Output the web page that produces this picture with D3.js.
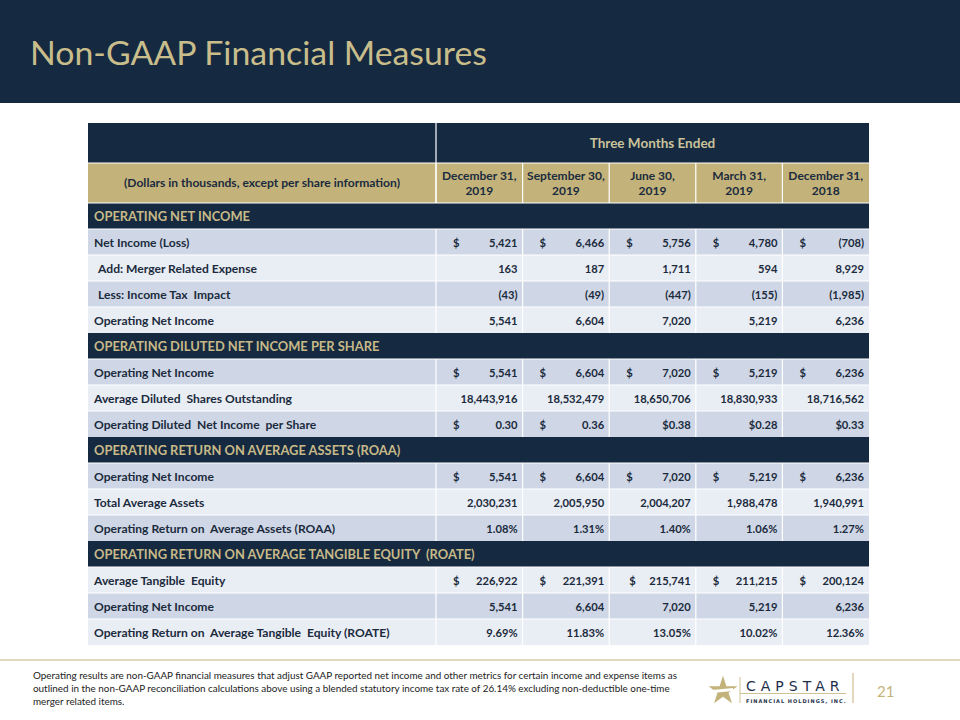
<!DOCTYPE html>
<html><head><meta charset="utf-8">
<script src="https://cdn.jsdelivr.net/npm/d3@7"></script>
<style>html,body{margin:0;padding:0;background:#fff;}svg{display:block;}</style>
</head><body>
<svg id="c" width="960" height="720"></svg>
<script>
const title = "Non-GAAP Financial Measures";
const periodLine1 = ["December 31,", "September 30,", "June 30,", "March 31,", "December 31,"];
const periodLine2 = ["2019", "2019", "2019", "2019", "2018"];
const unitsLabel = "(Dollars in thousands, except per share information)";
const groupLabel = "Three Months Ended";

const netIncome = [5421, 6466, 5756, 4780, -708];
const mergerExpense = [163, 187, 1711, 594, 8929];
const taxImpact = [-43, -49, -447, -155, -1985];
const operatingNetIncome = [5541, 6604, 7020, 5219, 6236];
const dilutedShares = [18443916, 18532479, 18650706, 18830933, 18716562];
const dilutedEPS = [0.30, 0.36, 0.38, 0.28, 0.33];
const avgAssets = [2030231, 2005950, 2004207, 1988478, 1940991];
const roaa = [1.08, 1.31, 1.40, 1.06, 1.27];
const avgTangibleEquity = [226922, 221391, 215741, 211215, 200124];
const roate = [9.69, 11.83, 13.05, 10.02, 12.36];

const footnote = [
  "Operating results are non-GAAP financial measures that adjust GAAP reported net income and other metrics for certain income and expense items as",
  "outlined in the non-GAAP reconciliation calculations above using a blended statutory income tax rate of 26.14% excluding non-deductible one-time",
  "merger related items."
];
const pageNumber = "21";

const sections = [
  {title: "OPERATING NET INCOME", rows: [
    {label: "Net Income (Loss)", values: netIncome, fmt: "int", dollar: ["sep","sep","sep","sep","sep"]},
    {label: "Add: Merger Related Expense", values: mergerExpense, fmt: "int", indent: true},
    {label: "Less: Income Tax  Impact", values: taxImpact, fmt: "int", indent: true},
    {label: "Operating Net Income", values: operatingNetIncome, fmt: "int"}
  ]},
  {title: "OPERATING DILUTED NET INCOME PER SHARE", rows: [
    {label: "Operating Net Income", values: operatingNetIncome, fmt: "int", dollar: ["sep","sep","sep","sep","sep"]},
    {label: "Average Diluted  Shares Outstanding", values: dilutedShares, fmt: "int"},
    {label: "Operating Diluted  Net Income  per Share", values: dilutedEPS, fmt: "dec", dollar: ["sep","sep","inline","inline","inline"]}
  ]},
  {title: "OPERATING RETURN ON AVERAGE ASSETS (ROAA)", rows: [
    {label: "Operating Net Income", values: operatingNetIncome, fmt: "int", dollar: ["sep","sep","sep","sep","sep"]},
    {label: "Total Average Assets", values: avgAssets, fmt: "int"},
    {label: "Operating Return on  Average Assets (ROAA)", values: roaa, fmt: "pct"}
  ]},
  {title: "OPERATING RETURN ON AVERAGE TANGIBLE EQUITY  (ROATE)", rows: [
    {label: "Average Tangible  Equity", values: avgTangibleEquity, fmt: "int", dollar: ["sep","sep","near","sep","sep"], light: true},
    {label: "Operating Net Income", values: operatingNetIncome, fmt: "int"},
    {label: "Operating Return on  Average Tangible  Equity (ROATE)", values: roate, fmt: "pct"}
  ]}
];

const NAVY = "#152a40", TAN = "#c3b37b", TANTXT = "#c7b988", DARKROW = "#cfd7e6", LIGHTROW = "#e9edf4", TXT = "#1b2b3d";
const FONT = "Lato, 'Open Sans', sans-serif";

const svg = d3.select("#c");

svg.append("rect").attr("x",0).attr("y",0).attr("width",960).attr("height",103).attr("fill",NAVY);
svg.append("text").attr("x",30).attr("y",65).attr("fill","#c9bd8b")
  .attr("font-family",FONT).attr("font-size",33).attr("textLength",457).attr("lengthAdjust","spacingAndGlyphs")
  .text(title);

const tX0 = 88, tX1 = 869, labelRight = 436;
const x = d3.scaleBand().domain(d3.range(periodLine1.length)).range([labelRight, tX1]);
const rowH = 26;

const fmtInt = d3.format(",");
function fmtVal(v, fmt){
  let s;
  if (fmt === "int") s = fmtInt(Math.abs(v));
  else if (fmt === "dec") s = d3.format(".2f")(Math.abs(v));
  else s = d3.format(".2f")(Math.abs(v)) + "%";
  return v < 0 ? "(" + s + ")" : s;
}

const g = svg.append("g").attr("font-family",FONT);

g.append("rect").attr("x",tX0).attr("y",123).attr("width",tX1-tX0).attr("height",40).attr("fill",NAVY);
g.append("text").attr("x",(labelRight+tX1)/2).attr("y",148).attr("text-anchor","middle")
  .attr("fill","#c9c29c").attr("font-size",13.5).attr("font-weight","bold").text(groupLabel);
g.append("rect").attr("x",tX0).attr("y",163).attr("width",tX1-tX0).attr("height",40).attr("fill",TAN);
g.append("text").attr("x",(tX0+labelRight)/2).attr("y",187).attr("text-anchor","middle")
  .attr("fill",TXT).attr("font-size",12.1).attr("font-weight","bold").text(unitsLabel);
periodLine1.forEach((p,i)=>{
  const cx = x(i) + x.bandwidth()/2;
  g.append("text").attr("x",cx).attr("y",179.5).attr("text-anchor","middle").attr("fill",TXT)
    .attr("font-size",12).attr("font-weight","bold").text(p);
  g.append("text").attr("x",cx).attr("y",195).attr("text-anchor","middle").attr("fill",TXT)
    .attr("font-size",12).attr("font-weight","bold").text(periodLine2[i]);
});

let y = 203;
const hLines = [163, 203];
const vSegs = [{x: labelRight, y0: 123, y1: 203}];
sections.forEach(sec=>{
  g.append("rect").attr("x",tX0).attr("y",y).attr("width",tX1-tX0).attr("height",rowH).attr("fill",NAVY);
  g.append("text").attr("x",tX0+6).attr("y",y+18).attr("fill",TANTXT)
    .attr("font-size",12.9).attr("font-weight","bold").style("white-space","pre").text(sec.title);
  y += rowH;
  const startY = y;
  sec.rows.forEach((r,ri)=>{
    const dark = sec.rows[0].light ? (ri%2===1) : (ri%2===0);
    g.append("rect").attr("x",tX0).attr("y",y).attr("width",tX1-tX0).attr("height",rowH)
      .attr("fill", dark ? DARKROW : LIGHTROW);
    g.append("text").attr("x",tX0 + (r.indent?10:6)).attr("y",y+17.5).attr("fill",TXT)
      .attr("font-size",12.1).attr("font-weight","bold").style("white-space","pre").text(r.label);
    r.values.forEach((v,i)=>{
      const d = r.dollar ? r.dollar[i] : null;
      let s = fmtVal(v, r.fmt);
      if (d === "inline") s = "$" + s;
      g.append("text").attr("x",x(i)+x.bandwidth()-5).attr("y",y+17.5).attr("text-anchor","end")
        .attr("fill",TXT).attr("font-size",11.2).attr("font-weight","bold").text(s);
      if (d === "sep" || d === "near"){
        g.append("text").attr("x",x(i)+ (d==="near"?20:17)).attr("y",y+17.5).attr("fill",TXT)
          .attr("font-size",11.2).attr("font-weight","bold").text("$");
      }
    });
    y += rowH;
    if (ri < sec.rows.length-1) hLines.push(y);
  });
  vSegs.push({x: labelRight, y0: startY, y1: y});
  x.domain().slice(1).forEach(i=> vSegs.push({x: x(i), y0: startY, y1: y}));
  hLines.push(startY);
});
hLines.forEach(hy=> g.append("line").attr("x1",tX0).attr("x2",tX1).attr("y1",hy).attr("y2",hy)
  .attr("stroke","#ffffff").attr("stroke-width",1.2));
vSegs.forEach(s=> g.append("line").attr("x1",s.x).attr("x2",s.x).attr("y1",s.y0).attr("y2",s.y1)
  .attr("stroke","#ffffff").attr("stroke-width",1.2));
x.domain().forEach(i=> g.append("line").attr("x1",x(i)).attr("x2",x(i)).attr("y1",163).attr("y2",203)
  .attr("stroke","#ffffff").attr("stroke-width",1.2));

svg.append("line").attr("x1",0).attr("x2",960).attr("y1",660).attr("y2",660).attr("stroke","#c3b37b").attr("stroke-width",1);
footnote.forEach((t,i)=>{
  svg.append("text").attr("x",33).attr("y",678.5+i*13).attr("font-family",FONT).attr("font-size",9.9)
    .attr("fill","#222").text(t);
});

const logo = svg.append("g");
const star = d3.symbol().type(d3.symbolStar).size(260);
logo.append("path").attr("d",star()).attr("transform","translate(723,691)").attr("fill","#c3b37b");
logo.append("path").attr("d","M712,690 L733,688 L733,691 L712,693 Z").attr("fill","#ffffff");
logo.append("line").attr("x1",740).attr("x2",740).attr("y1",677).attr("y2",703).attr("stroke","#c3b37b").attr("stroke-width",0.8);
logo.append("line").attr("x1",740).attr("x2",846).attr("y1",693.5).attr("y2",693.5).attr("stroke","#c3b37b").attr("stroke-width",0.8);
logo.append("text").attr("x",746).attr("y",691).attr("font-family","'DejaVu Sans', sans-serif").attr("font-size",14)
  .attr("letter-spacing",5).attr("fill","#1d2f4a").text("CAPSTAR");
logo.append("text").attr("x",746).attr("y",703).attr("font-family","'DejaVu Sans', sans-serif").attr("font-size",5)
  .attr("font-weight","bold").attr("letter-spacing",1).attr("fill","#1d2f4a").text("FINANCIAL HOLDINGS, INC.");
logo.append("line").attr("x1",853).attr("x2",853).attr("y1",673).attr("y2",703).attr("stroke","#c3b37b").attr("stroke-width",1);
svg.append("text").attr("x",877).attr("y",697).attr("font-family",FONT).attr("font-size",15).attr("fill","#c3b37b").text(pageNumber);
</script>
</body></html>
